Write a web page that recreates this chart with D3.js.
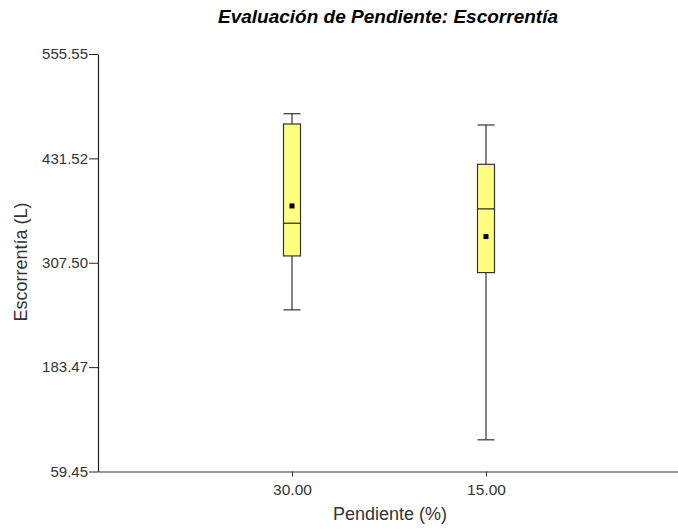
<!DOCTYPE html>
<html><head><meta charset="utf-8">
<script src="https://cdn.jsdelivr.net/npm/d3@7"></script>
<style>body{margin:0;background:#fff}svg{display:block}text{font-family:"Liberation Sans",Arial,sans-serif}</style>
</head><body>
<svg id="c" width="678" height="531"></svg>
<script>
const categories = ["30.00", "15.00"];
const maxVals = [484.6, 471.2];
const q3Vals = [472.4, 424.5];
const medianVals = [354.5, 371.5];
const meanVals = [375.0, 338.6];
const q1Vals = [315.6, 295.8];
const minVals = [251.5, 97.1];
const yTicks = [59.45, 183.47, 307.50, 431.52, 555.55];

const svg = d3.select("#c");
const mLeft = 98, mRight = 680, mTop = 54, mBottom = 471.5;
const x = d3.scalePoint().domain(["_a", ...categories, "_b"]).range([mLeft, mRight]);
const y = d3.scaleLinear().domain([59.45, 555.55]).range([mBottom, mTop]);

const data = categories.map((c, i) => ({c, max: maxVals[i], q3: q3Vals[i], med: medianVals[i], mean: meanVals[i], q1: q1Vals[i], min: minVals[i]}));

// Y axis
const ya = svg.append("g").attr("transform", `translate(${mLeft},0)`)
  .call(d3.axisLeft(y).tickValues(yTicks).tickFormat(d3.format(".2f")).tickSize(9).tickPadding(1).tickSizeOuter(0));
ya.select(".domain").attr("stroke", "#222").attr("stroke-width", 1.2);
ya.selectAll(".tick line").attr("stroke", "#222");
ya.selectAll(".tick text").attr("font-size", 15).attr("fill", "#333");

// X axis
const xa = svg.append("g").attr("transform", `translate(0,${mBottom})`)
  .call(d3.axisBottom(x).tickValues(categories).tickSize(5).tickPadding(7).tickSizeOuter(0));
xa.select(".domain").attr("stroke", "#333").attr("stroke-width", 1.2);
xa.selectAll(".tick line").attr("stroke", "#333");
xa.selectAll(".tick text").attr("font-size", 15.5).attr("fill", "#333");

const bw = 17;
const g = svg.append("g").selectAll("g").data(data).join("g")
  .attr("transform", d => `translate(${x(d.c)},0)`);
g.append("line").attr("x1", 0).attr("x2", 0).attr("y1", d => y(d.max)).attr("y2", d => y(d.min)).attr("stroke", "#333").attr("stroke-width", 1.2);
g.append("line").attr("x1", -bw/2).attr("x2", bw/2).attr("y1", d => y(d.max)).attr("y2", d => y(d.max)).attr("stroke", "#333").attr("stroke-width", 1.2);
g.append("line").attr("x1", -bw/2).attr("x2", bw/2).attr("y1", d => y(d.min)).attr("y2", d => y(d.min)).attr("stroke", "#333").attr("stroke-width", 1.2);
g.append("rect").attr("x", -bw/2).attr("width", bw).attr("y", d => y(d.q3)).attr("height", d => y(d.q1) - y(d.q3))
  .attr("fill", "#ffff80").attr("stroke", "#333").attr("stroke-width", 1.2);
g.append("line").attr("x1", -bw/2).attr("x2", bw/2).attr("y1", d => y(d.med)).attr("y2", d => y(d.med)).attr("stroke", "#222").attr("stroke-width", 1.2);
g.append("rect").attr("x", -2.5).attr("width", 5).attr("y", d => y(d.mean) - 2.5).attr("height", 5).attr("fill", "#000");

// Title and labels
svg.append("text").attr("x", 388).attr("y", 23).attr("text-anchor", "middle")
  .attr("font-size", 19).attr("font-weight", "bold").attr("font-style", "italic").attr("fill", "#000")
  .text("Evaluación de Pendiente: Escorrentía");
svg.append("text").attr("transform", "translate(27,262) rotate(-90)").attr("text-anchor", "middle")
  .attr("font-size", 18).attr("fill", "#333").text("Escorrentía (L)");
svg.append("text").attr("x", 390).attr("y", 520).attr("text-anchor", "middle")
  .attr("font-size", 18).attr("fill", "#333").text("Pendiente (%)");
</script>
</body></html>
